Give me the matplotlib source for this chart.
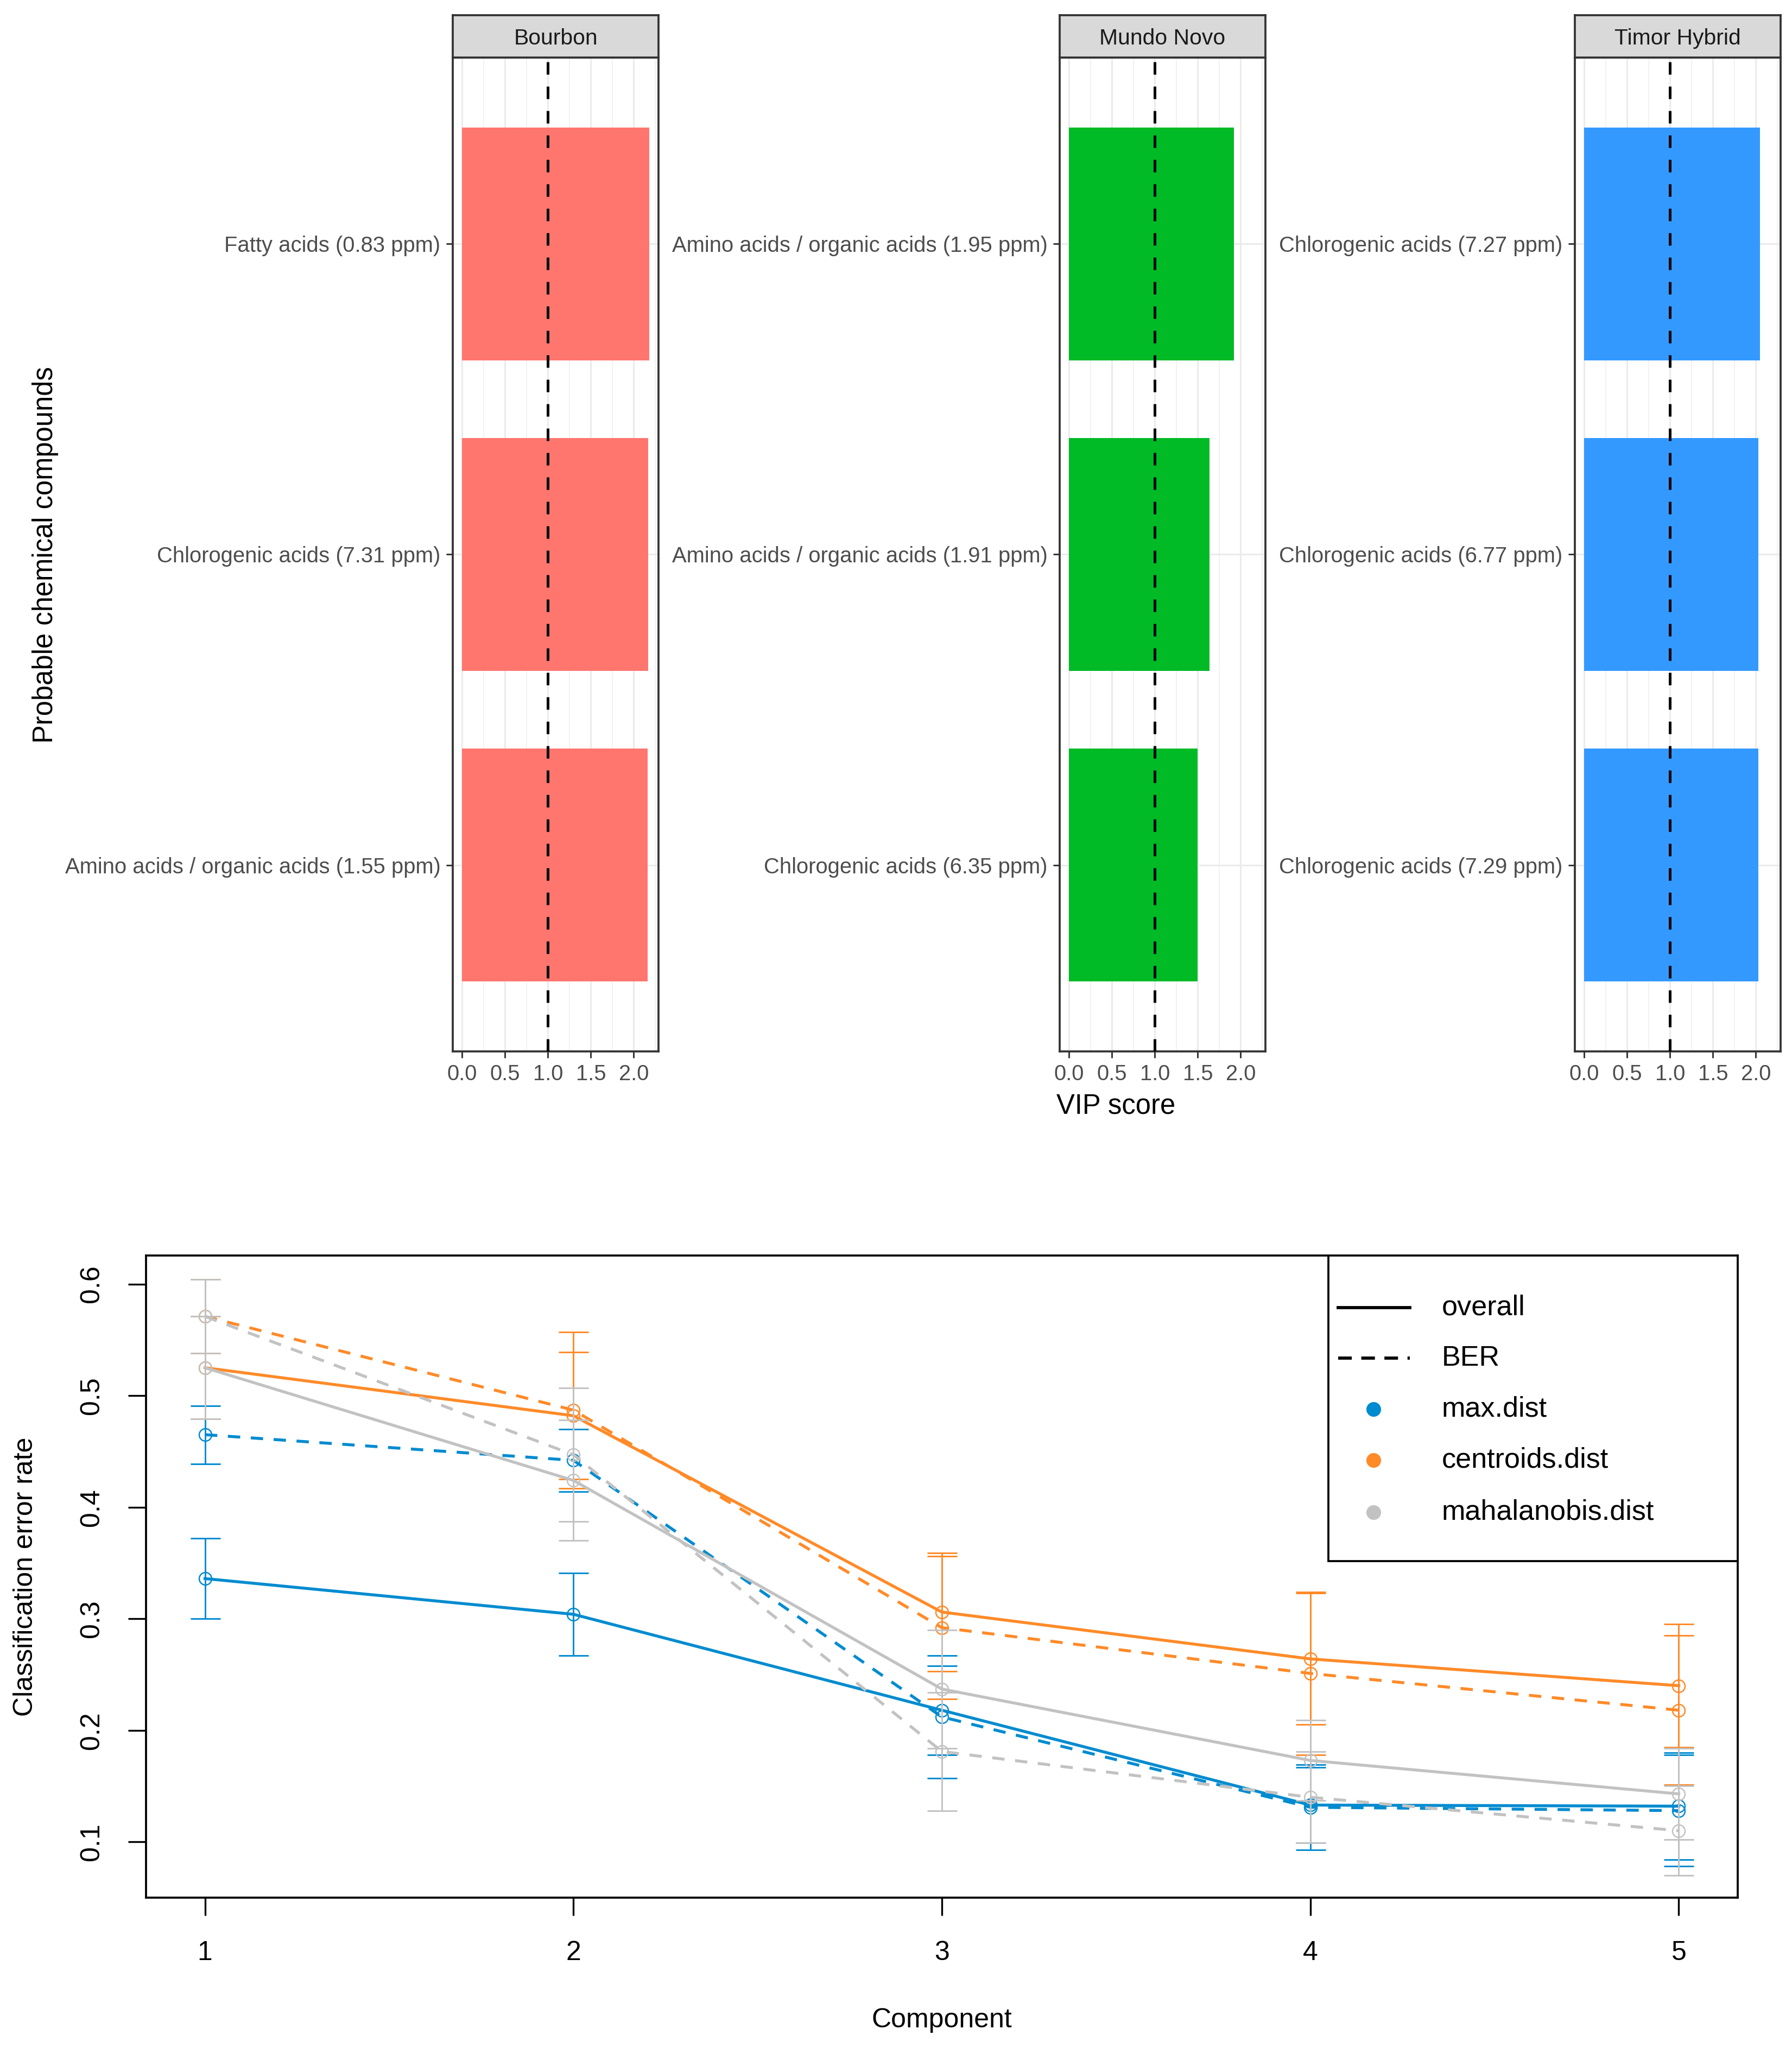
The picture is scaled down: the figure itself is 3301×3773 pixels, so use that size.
import numpy as np
import matplotlib.pyplot as plt
from matplotlib.patches import Rectangle

plt.rcParams['font.family'] = ['Liberation Sans', 'DejaVu Sans']

# ---- VIP scores per cultivar (top panels) ----
cultivars = ['Bourbon', 'Mundo Novo', 'Timor Hybrid']
bar_colors = ['#FF766E', '#00BA26', '#3399FF']
# compounds listed bottom -> top
compounds = [
    ['Amino acids / organic acids (1.55 ppm)', 'Chlorogenic acids (7.31 ppm)', 'Fatty acids (0.83 ppm)'],
    ['Chlorogenic acids (6.35 ppm)', 'Amino acids / organic acids (1.91 ppm)',
     'Amino acids / organic acids (1.95 ppm)'],
    ['Chlorogenic acids (7.29 ppm)', 'Chlorogenic acids (6.77 ppm)', 'Chlorogenic acids (7.27 ppm)'],
]
vip = [
    [2.16, 2.17, 2.18],
    [1.50, 1.64, 1.92],
    [2.03, 2.03, 2.05],
]
vip_ticks = [0.0, 0.5, 1.0, 1.5, 2.0]
vip_threshold = 1.0

# ---- classification error rate (bottom panel) ----
components = [1, 2, 3, 4, 5]
dist_names = ['max.dist', 'centroids.dist', 'mahalanobis.dist']
dist_colors = ['#008BD0', '#FF8A28', '#C2C2C2']
overall = [
    [0.336, 0.304, 0.218, 0.133, 0.132],
    [0.525, 0.482, 0.306, 0.264, 0.240],
    [0.525, 0.424, 0.237, 0.173, 0.143],
]
overall_sd = [
    [0.036, 0.037, 0.040, 0.034, 0.048],
    [0.046, 0.057, 0.053, 0.059, 0.055],
    [0.046, 0.054, 0.053, 0.036, 0.041],
]
ber = [
    [0.465, 0.442, 0.212, 0.131, 0.128],
    [0.571, 0.487, 0.292, 0.251, 0.218],
    [0.571, 0.447, 0.181, 0.140, 0.110],
]
ber_sd = [
    [0.026, 0.028, 0.055, 0.038, 0.050],
    [0.033, 0.070, 0.064, 0.073, 0.067],
    [0.033, 0.060, 0.053, 0.041, 0.040],
]

W, H = 3301, 3773
fig = plt.figure(figsize=(W / 300, H / 300), dpi=300)

# top facets
vmax = max(max(v) for v in vip)
panel_lefts = [834, 1952, 2901]
pw, ptop, pbot, stop = 379, 106, 1937, 28
dark = '#333333'
for i, name in enumerate(cultivars):
    left = panel_lefts[i] / W
    ax = fig.add_axes([left, 1 - pbot / H, pw / W, (pbot - ptop) / H])
    y = np.arange(1, len(compounds[i]) + 1)
    ax.barh(y, vip[i], height=0.75, color=bar_colors[i], zorder=2)
    ax.axvline(vip_threshold, color='black', ls=(0, (4.6, 4.4)), lw=1.2, zorder=3)
    ax.set_xlim(-0.05 * vmax, 1.05 * vmax)
    ax.set_ylim(0.4, len(y) + 0.6)
    ax.set_xticks(vip_ticks)
    ax.set_xticklabels([f'{t:.1f}' for t in vip_ticks])
    ax.set_xticks(np.array(vip_ticks) + 0.25, minor=True)
    ax.set_yticks(y)
    ax.set_yticklabels(compounds[i])
    ax.grid(which='major', color='#EBEBEB', lw=0.7)
    ax.grid(which='minor', axis='x', color='#F2F2F2', lw=0.45)
    ax.set_axisbelow(True)
    for s in ax.spines.values():
        s.set_color(dark)
        s.set_linewidth(0.9)
    ax.tick_params(which='major', color=dark, length=2.9, width=0.7,
                   labelsize=9.6, labelcolor='#4D4D4D', pad=2.5)
    ax.tick_params(which='minor', length=0)

    sax = fig.add_axes([left, 1 - ptop / H, pw / W, (ptop - stop) / H])
    sax.set_facecolor('#D9D9D9')
    sax.set_xticks([])
    sax.set_yticks([])
    for s in sax.spines.values():
        s.set_color(dark)
        s.set_linewidth(0.9)
    sax.text(0.5, 0.45, name, ha='center', va='center', fontsize=9.8,
             color='#1A1A1A', transform=sax.transAxes)

fig.text(84 / W, 1 - 1022 / H, 'Probable chemical compounds', rotation=90,
         ha='center', va='center', fontsize=12.2)
fig.text(2056 / W, 1 - 2052 / H, 'VIP score', ha='center', va='baseline', fontsize=12.2)

# bottom error-rate plot
bx0, bx1, by0, by1 = 269, 3201, 2313, 3496
ax2 = fig.add_axes([bx0 / W, 1 - by1 / H, (bx1 - bx0) / W, (by1 - by0) / H])
dash = (0, (4.2, 3.6))
for k in range(len(dist_names)):
    c = dist_colors[k]
    for vals, sds, ls in [(overall[k], overall_sd[k], '-'), (ber[k], ber_sd[k], dash)]:
        ax2.errorbar(components, vals, yerr=sds, fmt='none', ecolor=c,
                     elinewidth=0.7, capsize=6.6, capthick=0.7)
        ax2.plot(components, vals, color=c, lw=1.3, ls=ls, marker='o', ms=5.5,
                 mfc='none', mec=c, mew=0.6)

ax2.set_xlim(0.84, 5.16)
ax2.set_ylim(0.050, 0.6256)
ax2.set_xticks(components)
ax2.set_yticks([0.1, 0.2, 0.3, 0.4, 0.5, 0.6])
ax2.tick_params(axis='both', length=7.9, width=0.8, labelsize=12)
ax2.tick_params(axis='x', pad=11)
ax2.tick_params(axis='y', pad=10.5, labelrotation=90)
for lab in ax2.get_yticklabels():
    lab.set_va('center')
for s in ax2.spines.values():
    s.set_linewidth(0.9)
ax2.set_xlabel('Component', fontsize=12)
ax2.xaxis.set_label_coords(0.5, -0.191)
ax2.xaxis.label.set_va('center')
ax2.set_ylabel('Classification error rate', fontsize=12)
ax2.yaxis.set_label_coords(-0.0758, 0.5)
ax2.yaxis.label.set_va('center')

# legend box (R style, drawn in axes fraction)
tr = ax2.transAxes
ax2.add_patch(Rectangle((0.743, 0.524), 0.257, 0.476, transform=tr, fc='white',
                        ec='black', lw=0.9, zorder=5))
rows = [0.919, 0.840, 0.761, 0.681, 0.600]
ax2.plot([0.749, 0.794], [rows[0]] * 2, color='black', lw=1.4, transform=tr, zorder=6)
ax2.text(0.814, rows[0], 'overall', transform=tr, va='center', fontsize=12.5, zorder=6)
ax2.plot([0.749, 0.794], [rows[1]] * 2, color='black', lw=1.4, ls=(0, (4.3, 3.0)),
         transform=tr, zorder=6)
ax2.text(0.814, rows[1], 'BER', transform=tr, va='center', fontsize=12.5, zorder=6)
for k, name in enumerate(dist_names):
    ax2.plot([0.771], [rows[2 + k]], 'o', color=dist_colors[k], ms=5.5, transform=tr, zorder=6)
    ax2.text(0.814, rows[2 + k], name, transform=tr, va='center', fontsize=12.5, zorder=6)

fig.savefig('out.png', dpi=300)
